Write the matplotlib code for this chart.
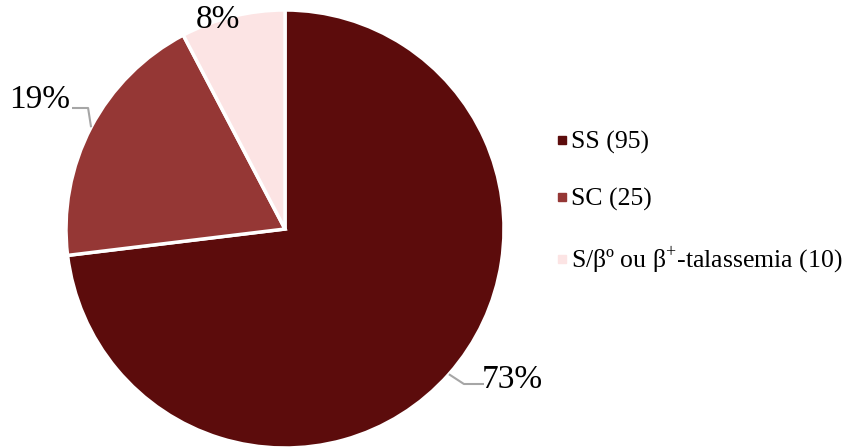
import numpy as np
import matplotlib.pyplot as plt
from matplotlib.lines import Line2D

plt.rcParams['font.family'] = ['Liberation Serif', 'DejaVu Serif']
plt.rcParams['mathtext.fontset'] = 'custom'
plt.rcParams['mathtext.rm'] = 'Liberation Serif'

# genotype counts
labels = ['SS (95)', 'SC (25)', 'S/βº ou β$^{+}$-talassemia (10)']
counts = [95, 25, 10]
colors = ['#5C0C0C', '#953735', '#FCE4E4']

W, H = 861, 447
fig = plt.figure(figsize=(W / 100, H / 100), dpi=100)
ax = fig.add_axes([0, 0, 1, 1])

cx, cy, r = 285, H - 229, 219
wedges, _ = ax.pie(counts, colors=colors, startangle=90, counterclock=False,
                   center=(cx, cy), radius=r, frame=True,
                   wedgeprops=dict(edgecolor='white', linewidth=2.5))
ax.set_xlim(0, W)
ax.set_ylim(0, H)
ax.set_aspect('equal')
ax.axis('off')

total = sum(counts)
pcts = [f'{round(c / total * 100)}%' for c in counts]

# percent label positions, leader line only for the two larger slices
label_pos = [(512, H - 380), (40, H - 100), (218, H - 20)]
leaders = [True, True, False]
for w, pct, (tx, ty), lead in zip(wedges, pcts, label_pos, leaders):
    mid = np.deg2rad((w.theta1 + w.theta2) / 2)
    ex, ey = cx + r * np.cos(mid), cy + r * np.sin(mid)
    if lead:
        if tx > cx:
            xs = [ex, ex + 15, tx - 28]
            ys = [ey, ty - 4, ty - 4]
        else:
            xs = [ex, ex - 3, tx + 32]
            ys = [ey, ty - 8, ty - 8]
        ax.plot(xs, ys, color='#A6A6A6', lw=1.5, solid_capstyle='butt')
    ax.text(tx, ty, pct, fontsize=24, ha='center', va='center')

handles = [Line2D([], [], marker='s', linestyle='none', markersize=6,
                  markerfacecolor=c, markeredgecolor=c) for c in colors]
fig.legend(handles, labels, loc='center left', bbox_to_anchor=(0.629, 0.545),
           frameon=False, fontsize=18.5, labelspacing=1.3, handlelength=0.6,
           handletextpad=0.05, borderpad=0)

fig.savefig('out.png', dpi=100)
